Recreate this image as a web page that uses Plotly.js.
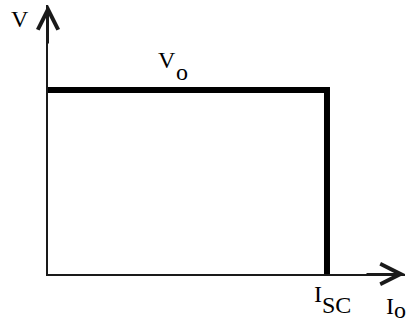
<!DOCTYPE html>
<html>
<head>
<meta charset="utf-8">
<script src="https://cdn.plot.ly/plotly-3.0.1.min.js"></script>
<style>
  html, body { margin: 0; padding: 0; background: #fff; }
  #chart { width: 407px; height: 322px; }
</style>
</head>
<body>
<div id="chart"></div>
<script>
// Ideal source characteristic: constant voltage Vo up to the short-circuit current Isc
const current = [0, 1, 1];   // Io, in units of Isc
const voltage = [1, 1, 0];   // V, in units of Vo

const serif = { family: 'Liberation Serif, Times New Roman, serif', size: 24, color: '#000' };

// Text piece; symbol and subscript are separate pieces that meet at a shared x
function label(text, x, y, xanchor) {
  return { text: text, xref: 'paper', yref: 'paper', x: x, y: y,
           xanchor: xanchor || 'center', yanchor: 'middle', showarrow: false,
           borderpad: 0, borderwidth: 0, font: serif };
}

function arrowHead(x, y, ax, ay) {
  return { text: '', xref: 'paper', yref: 'paper', x: x, y: y,
           axref: 'pixel', ayref: 'pixel', ax: ax, ay: ay,
           showarrow: true, arrowhead: 5, arrowsize: 2, arrowwidth: 2,
           arrowcolor: '#1a1a1a', standoff: 0, startstandoff: 0 };
}

const trace = {
  x: current, y: voltage, type: 'scatter', mode: 'lines',
  line: { color: '#000', width: 6, shape: 'linear' },
  hoverinfo: 'skip', cliponaxis: false
};

const axisCommon = {
  showgrid: false, zeroline: false, showticklabels: false, ticks: '',
  showline: true, linecolor: '#1a1a1a', linewidth: 2, fixedrange: true
};

const layout = {
  width: 407, height: 322,
  margin: { l: 48, r: 2, t: 5, b: 48 },
  paper_bgcolor: '#fff', plot_bgcolor: '#fff',
  showlegend: false,
  xaxis: Object.assign({ range: [0, 1.2796] }, axisCommon),
  yaxis: Object.assign({ range: [0, 1.4620] }, axisCommon),
  annotations: [
    arrowHead(1, 0, -40, 0),
    arrowHead(0, 1, 0, 40),
    label('V', -0.0784, 0.948),
    label('V', 0.3585, 0.7955, 'right'),
    label('o', 0.3585, 0.7509, 'left'),
    label('I', 0.7689, -0.0762, 'right'),
    label('SC', 0.7689, -0.1134, 'left'),
    label('I', 0.9692, -0.1200, 'right'),
    label('o', 0.9692, -0.1330, 'left')
  ]
};

Plotly.newPlot('chart', [trace], layout, { staticPlot: true, displayModeBar: false });
</script>
</body>
</html>
